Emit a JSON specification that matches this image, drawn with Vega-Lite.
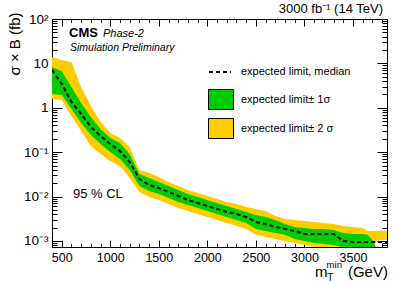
{
  "$schema": "https://vega.github.io/schema/vega-lite/v6.json",
  "width": 335,
  "height": 228,
  "autosize": "none",
  "padding": {"left": 52, "top": 19, "right": 20, "bottom": 37},
  "background": "white",
  "config": {
    "view": {"stroke": null},
    "font": "Liberation Sans",
    "axis": {"grid": false, "zindex": 1, "tickColor": "black", "domainColor": "black", "labelColor": "black", "titleColor": "black", "labelFont": "Liberation Sans", "titleFont": "Liberation Sans", "tickWidth": 1, "domainWidth": 1, "labelOverlap": false, "labelFlush": false, "labelBound": false},
    "legend": {"labelFont": "Liberation Sans", "labelColor": "black", "labelFontSize": 11, "labelLimit": 300, "padding": 0}
  },
  "data": {"values": [
    {"mass": 400, "yt": 13.9, "gt": 8.3, "m": 7.1, "gl": 2.05, "yl": 1.58},
    {"mass": 500, "yt": 11.9, "gt": 6.74, "m": 3.44, "gl": 1.94, "yl": 1.5},
    {"mass": 600, "yt": 10.75, "gt": 2.94, "m": 1.35, "gl": 0.94, "yl": 0.654},
    {"mass": 700, "yt": 2.94, "gt": 1.28, "m": 0.725, "gl": 0.455, "yl": 0.3},
    {"mass": 800, "yt": 1.1, "gt": 0.621, "m": 0.369, "gl": 0.244, "yl": 0.138},
    {"mass": 900, "yt": 0.479, "gt": 0.333, "m": 0.232, "gl": 0.153, "yl": 0.0911},
    {"mass": 1000, "yt": 0.271, "gt": 0.209, "m": 0.153, "gl": 0.101, "yl": 0.0633},
    {"mass": 1100, "yt": 0.209, "gt": 0.161, "m": 0.1064, "gl": 0.0703, "yl": 0.0489},
    {"mass": 1200, "yt": 0.131, "gt": 0.0911, "m": 0.0601, "gl": 0.0397, "yl": 0.0262},
    {"mass": 1300, "yt": 0.0397, "gt": 0.0323, "m": 0.0249, "gl": 0.01733, "yl": 0.0127},
    {"mass": 1400, "yt": 0.034, "gt": 0.0262, "m": 0.01825, "gl": 0.01337, "yl": 0.00979},
    {"mass": 1500, "yt": 0.0276, "gt": 0.0213, "m": 0.01562, "gl": 0.01144, "yl": 0.00838},
    {"mass": 1600, "yt": 0.0213, "gt": 0.01733, "m": 0.0127, "gl": 0.0093, "yl": 0.00681},
    {"mass": 1700, "yt": 0.01733, "gt": 0.01408, "m": 0.01031, "gl": 0.00756, "yl": 0.00554},
    {"mass": 1800, "yt": 0.01408, "gt": 0.01144, "m": 0.00838, "gl": 0.00647, "yl": 0.00474},
    {"mass": 1900, "yt": 0.01205, "gt": 0.00979, "m": 0.00718, "gl": 0.00554, "yl": 0.00406},
    {"mass": 2000, "yt": 0.01031, "gt": 0.00838, "m": 0.00614, "gl": 0.00474, "yl": 0.00347},
    {"mass": 2100, "yt": 0.00883, "gt": 0.00718, "m": 0.00526, "gl": 0.00406, "yl": 0.00297},
    {"mass": 2200, "yt": 0.00756, "gt": 0.00614, "m": 0.0045, "gl": 0.00347, "yl": 0.00254},
    {"mass": 2300, "yt": 0.00681, "gt": 0.00526, "m": 0.00406, "gl": 0.00297, "yl": 0.00218},
    {"mass": 2400, "yt": 0.00583, "gt": 0.0045, "m": 0.00347, "gl": 0.00254, "yl": 0.00186},
    {"mass": 2500, "yt": 0.00526, "gt": 0.00385, "m": 0.00268, "gl": 0.00186, "yl": 0.00137},
    {"mass": 2600, "yt": 0.00474, "gt": 0.00347, "m": 0.00241, "gl": 0.00168, "yl": 0.00123},
    {"mass": 2700, "yt": 0.00366, "gt": 0.00297, "m": 0.00207, "gl": 0.00151, "yl": 0.00111},
    {"mass": 2800, "yt": 0.00313, "gt": 0.00241, "m": 0.00186, "gl": 0.00137, "yl": 0.001},
    {"mass": 2900, "yt": 0.00297, "gt": 0.00207, "m": 0.00168, "gl": 0.00111, "yl": 0.0009},
    {"mass": 3000, "yt": 0.00282, "gt": 0.00196, "m": 0.00144, "gl": 0.001, "yl": 0.000813},
    {"mass": 3100, "yt": 0.00268, "gt": 0.00186, "m": 0.00144, "gl": 0.0009, "yl": 0.000733},
    {"mass": 3200, "yt": 0.00254, "gt": 0.00186, "m": 0.00144, "gl": 0.000856, "yl": 0.000696},
    {"mass": 3300, "yt": 0.00241, "gt": 0.00177, "m": 0.00144, "gl": 0.000813, "yl": 0.000661},
    {"mass": 3400, "yt": 0.00218, "gt": 0.00151, "m": 0.001, "gl": 0.000733, "yl": 0.0006},
    {"mass": 3500, "yt": 0.00207, "gt": 0.00144, "m": 0.00095, "gl": 0.0006, "yl": 0.0005},
    {"mass": 3600, "yt": 0.00196, "gt": 0.00144, "m": 0.00095, "gl": 0.0005, "yl": 0.0005},
    {"mass": 3650, "yt": 0.00168, "gt": 0.00137, "m": 0.00095, "gl": 0.0005, "yl": 0.0005},
    {"mass": 3700, "yt": 0.00168, "gt": 0.00105, "m": 0.00095, "gl": 0.0005, "yl": 0.0007},
    {"mass": 3750, "yt": 0.00168, "gt": 0.0006, "m": 0.00095, "gl": 0.0005, "yl": 0.00105},
    {"mass": 3850, "yt": 0.00168, "gt": 0.0006, "m": 0.00095, "gl": 0.0005, "yl": 0.00105}
  ]},
  "layer": [
    {
      "mark": {"type": "area", "clip": true, "interpolate": "linear"},
      "encoding": {
        "x": {"field": "mass", "type": "quantitative", "scale": {"domain": [400, 3850], "nice": false, "zero": false},
          "axis": {"orient": "bottom", "values": [500, 1000, 1500, 2000, 2500, 3000, 3500], "format": "d", "tickSize": -7, "labelPadding": 11, "labelFontSize": 12.5, "domain": true, "title": null}},
        "y": {"field": "yl", "type": "quantitative", "scale": {"type": "log", "domain": [0.00073, 100], "nice": false},
          "axis": {"orient": "left", "values": [0.001, 0.01, 0.1, 1, 10, 100], "tickSize": -10, "labelPadding": 14, "labelFontSize": 13.5, "labelBaseline": "middle",
            "labelExpr": "datum.value >= 99 ? '10²' : datum.value >= 9 ? '10' : datum.value >= 0.9 ? '1' : datum.value >= 0.09 ? '10⁻¹' : datum.value >= 0.009 ? '10⁻²' : '10⁻³'",
            "domain": true, "title": "σ × B (fb)", "titleFontSize": 15, "titleFontWeight": "normal", "titleAngle": -90, "titleX": -38, "titleY": -7, "titleAlign": "right", "titleBaseline": "middle"}},
        "y2": {"field": "yt"},
        "fill": {"datum": "expected limit± 2 σ", "scale": {"domain": ["expected limit± 1σ", "expected limit± 2 σ"], "range": ["#00cc00", "#ffcc00"]},
          "legend": {"orient": "none", "legendX": 156, "legendY": 67.5, "title": null, "symbolType": "M-1,-0.8H1V0.8H-1Z", "symbolSize": 625, "symbolStrokeColor": "black", "symbolStrokeWidth": 1, "labelOffset": 7, "rowPadding": 4}}
      }
    },
    {
      "mark": {"type": "area", "clip": true, "interpolate": "linear"},
      "encoding": {
        "x": {"field": "mass", "type": "quantitative",
          "axis": {"orient": "top", "values": [500, 1000, 1500, 2000, 2500, 3000, 3500], "tickSize": -7, "labels": false, "domain": true, "title": null}},
        "y": {"field": "gl", "type": "quantitative",
          "axis": {"orient": "right", "values": [0.001, 0.01, 0.1, 1, 10, 100], "tickSize": -10, "labels": false, "domain": true, "title": null}},
        "y2": {"field": "gt"},
        "fill": {"datum": "expected limit± 1σ"}
      }
    },
    {
      "mark": {"type": "line", "clip": true, "color": "black", "strokeWidth": 2},
      "encoding": {
        "x": {"field": "mass", "type": "quantitative",
          "axis": {"orient": "bottom", "values": [400, 600, 700, 800, 900, 1100, 1200, 1300, 1400, 1600, 1700, 1800, 1900, 2100, 2200, 2300, 2400, 2600, 2700, 2800, 2900, 3100, 3200, 3300, 3400, 3600, 3700, 3800], "tickSize": -3.5, "labels": false, "domain": false, "title": null}},
        "y": {"field": "m", "type": "quantitative",
          "axis": {"orient": "left", "values": [0.0008, 0.0009, 0.002, 0.003, 0.004, 0.005, 0.006, 0.007, 0.008, 0.009, 0.02, 0.03, 0.04, 0.05, 0.06, 0.07, 0.08, 0.09, 0.2, 0.3, 0.4, 0.5, 0.6, 0.7, 0.8, 0.9, 2, 3, 4, 5, 6, 7, 8, 9, 20, 30, 40, 50, 60, 70, 80, 90], "tickSize": -5, "labels": false, "domain": false, "title": null}},
        "strokeDash": {"datum": "expected limit, median", "scale": {"range": [[4, 3]]},
          "legend": {"orient": "none", "legendX": 156, "legendY": 41, "title": null, "symbolType": "stroke", "symbolSize": 484, "symbolStrokeColor": "black", "symbolStrokeWidth": 2, "labelOffset": 9}}
      }
    },
    {
      "data": {"values": [{}]},
      "mark": {"type": "text", "text": "CMS", "align": "left", "baseline": "alphabetic", "fontSize": 13, "fontWeight": "bold", "font": "Liberation Sans", "color": "black"},
      "encoding": {
        "x": {"datum": 575, "type": "quantitative",
          "axis": {"orient": "top", "values": [400, 600, 700, 800, 900, 1100, 1200, 1300, 1400, 1600, 1700, 1800, 1900, 2100, 2200, 2300, 2400, 2600, 2700, 2800, 2900, 3100, 3200, 3300, 3400, 3600, 3700, 3800], "tickSize": -3.5, "labels": false, "domain": false, "title": null}},
        "y": {"datum": 39.3, "type": "quantitative",
          "axis": {"orient": "right", "values": [0.0008, 0.0009, 0.002, 0.003, 0.004, 0.005, 0.006, 0.007, 0.008, 0.009, 0.02, 0.03, 0.04, 0.05, 0.06, 0.07, 0.08, 0.09, 0.2, 0.3, 0.4, 0.5, 0.6, 0.7, 0.8, 0.9, 2, 3, 4, 5, 6, 7, 8, 9, 20, 30, 40, 50, 60, 70, 80, 90], "tickSize": -5, "labels": false, "domain": false, "title": null}}
      }
    },
    {
      "data": {"values": [{}]},
      "mark": {"type": "text", "text": "Phase-2", "align": "left", "baseline": "alphabetic", "fontSize": 11, "fontStyle": "italic", "font": "Liberation Sans", "color": "black"},
      "encoding": {"x": {"datum": 925, "type": "quantitative", "axis": null}, "y": {"datum": 39.3, "type": "quantitative", "axis": null}}
    },
    {
      "data": {"values": [{}]},
      "mark": {"type": "text", "text": "Simulation Preliminary", "align": "left", "baseline": "alphabetic", "fontSize": 10.5, "fontStyle": "italic", "font": "Liberation Sans", "color": "black"},
      "encoding": {"x": {"datum": 585, "type": "quantitative", "axis": null}, "y": {"datum": 19.0, "type": "quantitative", "axis": null}}
    },
    {
      "data": {"values": [{}]},
      "mark": {"type": "text", "text": "95 % CL", "align": "left", "baseline": "alphabetic", "fontSize": 13, "font": "Liberation Sans", "color": "black"},
      "encoding": {"x": {"datum": 616, "type": "quantitative", "axis": null}, "y": {"datum": 0.0093, "type": "quantitative", "axis": null}}
    },
    {
      "data": {"values": [{}]},
      "mark": {"type": "text", "text": "3000 fb⁻¹ (14 TeV)", "align": "right", "baseline": "alphabetic", "fontSize": 13, "font": "Liberation Sans", "color": "black"},
      "encoding": {"x": {"datum": 3809, "type": "quantitative", "axis": null}, "y": {"datum": 136.6, "type": "quantitative", "axis": null}}
    },
    {
      "data": {"values": [{}]},
      "mark": {"type": "text", "text": "m", "align": "left", "baseline": "alphabetic", "fontSize": 15, "font": "Liberation Sans", "color": "black"},
      "encoding": {"x": {"datum": 3108, "type": "quantitative", "axis": null}, "y": {"datum": 0.000154, "type": "quantitative", "axis": null}}
    },
    {
      "data": {"values": [{}]},
      "mark": {"type": "text", "text": "min", "align": "left", "baseline": "alphabetic", "fontSize": 9.5, "font": "Liberation Sans", "color": "black"},
      "encoding": {"x": {"datum": 3228, "type": "quantitative", "axis": null}, "y": {"datum": 0.00025, "type": "quantitative", "axis": null}}
    },
    {
      "data": {"values": [{}]},
      "mark": {"type": "text", "text": "T", "align": "left", "baseline": "alphabetic", "fontSize": 10, "font": "Liberation Sans", "color": "black"},
      "encoding": {"x": {"datum": 3235, "type": "quantitative", "axis": null}, "y": {"datum": 0.000128, "type": "quantitative", "axis": null}}
    },
    {
      "data": {"values": [{}]},
      "mark": {"type": "text", "text": "(GeV)", "align": "right", "baseline": "alphabetic", "fontSize": 15, "font": "Liberation Sans", "color": "black"},
      "encoding": {"x": {"datum": 3860, "type": "quantitative", "axis": null}, "y": {"datum": 0.000154, "type": "quantitative", "axis": null}}
    }
  ],
  "resolve": {"axis": {"x": "independent", "y": "independent"}}
}
